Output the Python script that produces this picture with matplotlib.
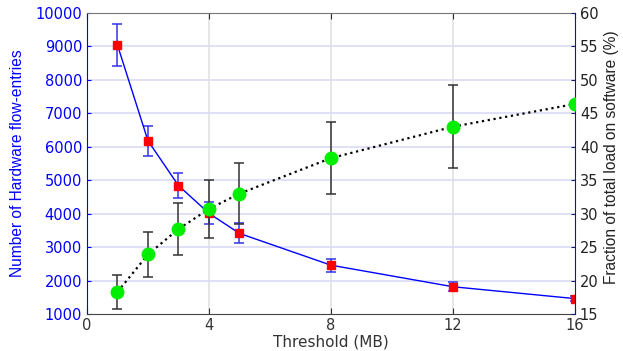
import numpy as np
import matplotlib
matplotlib.use("Agg")
import matplotlib.pyplot as plt

plt.rcParams['font.family'] = ['DejaVu Sans']

# threshold in MB
threshold = [1, 2, 3, 4, 5, 8, 12, 16]

# hardware flow entries (left axis)
hw_entries = [9040, 6180, 4840, 4010, 3410, 2460, 1815, 1460]
hw_err = [620, 450, 365, 325, 300, 190, 140, 80]

# fraction of load on software in % (right axis)
sw_load = [18.3, 23.9, 27.7, 30.7, 33.0, 38.3, 43.0, 46.4]
sw_err = [2.5, 3.35, 3.9, 4.3, 4.5, 5.4, 6.2, 0]

fig = plt.figure(figsize=(6.23, 3.51), dpi=100)
ax = fig.add_axes([0.1396, 0.1054, 0.7833, 0.8576])
ax2 = ax.twinx()

# grid (both on the lower axes so it stays behind everything)
for v in [4, 8, 12]:
    ax.axvline(v, color='#e2e2e2', lw=1.2, zorder=0)
for h in range(2000, 10000, 1000):
    ax.axhline(h, color='#dadaf6', lw=1.2, zorder=0)

# blue series
ax.errorbar(threshold, hw_entries, yerr=hw_err, color='blue', lw=1.0,
            ecolor='#3333ee', elinewidth=1.1, capsize=3.5, capthick=1.1,
            marker='s', markersize=5.5, mfc='red', mec='red', zorder=3)

# green series
ax2.errorbar(threshold, sw_load, yerr=sw_err, color='black', ls=':', lw=1.6,
             ecolor='#333333', elinewidth=1.1, capsize=3.5, capthick=1.1,
             marker='o', markersize=9, mfc='#00ee00', mec='#00ee00', zorder=3)

ax.set_xlim(0, 16)
ax.set_ylim(1000, 10000)
ax2.set_ylim(15, 60)
ax.set_xticks([0, 4, 8, 12, 16])
ax.set_yticks(range(1000, 10001, 1000))
ax2.set_yticks(range(15, 61, 5))

ax.tick_params(axis='y', colors='blue', labelcolor='blue', direction='in',
               labelsize=10.5, length=3)
ax.tick_params(axis='x', colors='#333333', direction='in', labelsize=10.5,
               top=True, length=4, pad=3)
ax2.tick_params(axis='y', colors='#1a1a6e', labelcolor='#222222', direction='in',
                labelsize=10.5, length=3)

ax.spines['left'].set_color('blue')
ax.spines['bottom'].set_color('#444444')
ax.spines['top'].set_color('#777777')
ax.spines['right'].set_visible(False)
ax2.spines['right'].set_color('#1a1a6e')
ax2.spines['left'].set_visible(False)
ax2.spines['top'].set_visible(False)
ax2.spines['bottom'].set_visible(False)

ax.set_xlabel("Threshold (MB)", fontsize=11, color='#333333', labelpad=1)
ax.set_ylabel("Number of Hardware flow-entries", fontsize=11.2,
              family='Liberation Sans', color='blue')
ax2.set_ylabel("Fraction of total load on software (%)", fontsize=11.2,
               family='Liberation Sans', color='#222222')
ax.yaxis.set_label_coords(-0.127, 0.5)
ax2.yaxis.set_label_coords(1.059, 0.52)

fig.savefig("out.png", dpi=100)
